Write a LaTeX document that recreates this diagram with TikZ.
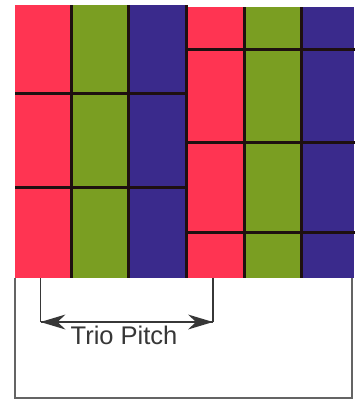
\documentclass[tikz,border=0pt]{standalone}
\usepackage{fontspec}
\setmainfont{Liberation Sans}
\definecolor{cred}{RGB}{255,52,82}
\definecolor{cgreen}{RGB}{122,158,34}
\definecolor{cblue}{RGB}{58,42,140}
\definecolor{cline}{RGB}{30,16,16}
\definecolor{cframe}{RGB}{100,100,100}
\definecolor{cdim}{RGB}{55,55,55}
\begin{document}
\begin{tikzpicture}[x=1pt,y=-1pt,
  sep/.style={draw=cline,line width=3pt},
  frame/.style={draw=cframe,line width=1.2pt},
  dim/.style={draw=cdim,line width=1.2pt},
  head/.style={fill=cdim,draw=none}]
\useasboundingbox (0,0) rectangle (361,399);
\fill[white] (0,0) rectangle (361,399);
% frame
\draw[frame] (15,278) -- (15,398) -- (352,398) -- (352,278);
% left trio
\fill[cred]   (15,5) rectangle (71,278);
\fill[cgreen] (71,5) rectangle (128.5,278);
\fill[cblue]  (128.5,5) rectangle (186.5,278);
% right trio
\fill[cred]   (186.5,7) rectangle (244,278);
\fill[cgreen] (244,7) rectangle (301.5,278);
\fill[cblue]  (301.5,7) rectangle (354,278);
% vertical separators
\foreach \x/\t in {71/5,128.5/5,186.5/5,244/7,301.5/7}
  \draw[sep] (\x,\t) -- (\x,278);
% horizontal separators
\foreach \y in {93,187}
  \draw[sep] (15,\y) -- (186.5,\y);
\foreach \y in {49,142,232}
  \draw[sep] (186.5,\y) -- (355,\y);
% dimension
\coordinate (la) at (40.5,278);
\coordinate (lb) at (40.5,322);
\coordinate (ra) at (213,278);
\coordinate (rb) at (213,322);
\draw[dim] (la) -- (lb);
\draw[dim] (ra) -- (rb);
\draw[dim] (lb) -- (rb);
\fill[head] (lb) -- ++(25,-7.5) -- ++(-8,7.5) -- ++(8,7.5) -- cycle;
\fill[head] (rb) -- ++(-25,-7.5) -- ++(8,7.5) -- ++(-8,7.5) -- cycle;
\node[font=\fontsize{25.5}{30}\selectfont,text=cdim,inner sep=0pt,anchor=base] (lbl) at (124,344) {Trio Pitch};
\end{tikzpicture}
\end{document}
